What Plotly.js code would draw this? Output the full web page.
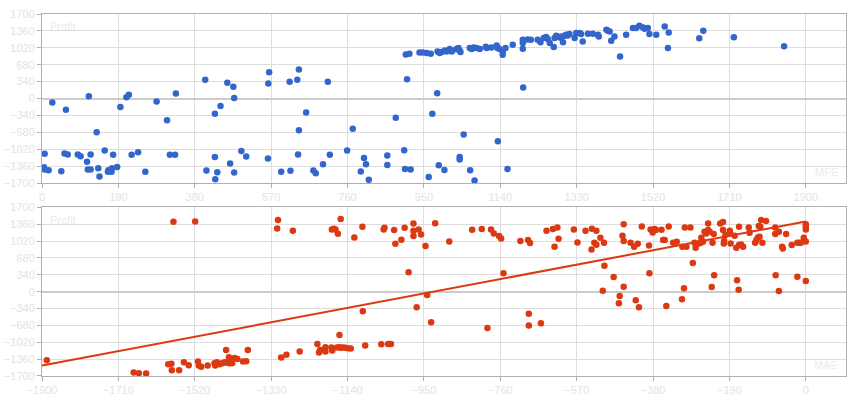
<!DOCTYPE html>
<html>
<head>
<meta charset="utf-8">
<script src="https://cdn.plot.ly/plotly-3.0.1.min.js"></script>
<style>html,body{margin:0;padding:0;background:#fff;}#chart{width:860px;height:400px;}</style>
</head>
<body>
<div id="chart"></div>
<script>
// Top chart: MFE (x) vs Profit (y)
const mfe = [6.6,5,6.6,16.5,25.6,59.5,56,64,48,89,96,112,116.5,114,121,121,136,140,143,156,164,165,173,177,174,187,195,210,216,223,239,257,285,311,318,331,333,406,409,430,430,431,436,444,461,468,476,478,478,496,508,562,565,563,595,616,618,635,637,639,639,
657,711,675,681,699,716,759,773,801,806,793,813,859,859,880,901,903,917,908,971,983,962,987,1001,1039,1039,1049,1065,1076,1134,1158,1197,
905,914,939,947,957,967,984,989,994,1002,1006,1014,1019,1021,1031,1036,1041,1039,1064,1069,1074,1081,1089,1104,1106,1118,1131,1133,1138,1146,1146,1153,1171,1196,1196,1196,1208,1216,1233,
1240,1248,1254,1258,1263,1273,1275,1279,1283,1288,1292,1296,1300,1304,1308,1312,1325,1329,1337,1341,1345,1358,1370,1383,1385,1404,1408,1412,1416,1424,1438,1453,1470,1478,1486,1495,1499,1507,1511,1528,1549,1557,
1559,1635,1645,1721,1846];
const profitTop = [-1113,-1381,-1428,-1442,-80,-228,-1106,-1127,-1462,-1127,-1160,-1274,47,-1428,-1428,-1127,-677,-1401,-1569,-1046,-1475,-1442,-1475,-1133,-1401,-1375,-168,27,74,-1133,-1080,-1475,-60,-436,-1133,-1133,101,376,-1448,-308,-1174,-1623,-1482,-148,315,-1308,235,13,-1489,-1053,-1167,-1207,530,302,-1475,335,-1455,376,-1127,583,-637,
-282,335,-1448,-1502,-1321,-1133,-1046,-610,-1194,-1321,-1469,-1636,-1147,-1335,-389,-1040,-1415,-1428,389,-308,107,-1576,-1341,-1435,-1174,-1227,-724,-1442,-1650,-858,-1415,221,
885,899,926,926,914,900,946,914,934,966,946,994,946,960,994,1014,934,960,1014,994,1027,1014,994,1041,1014,1027,1067,1014,994,946,880,1014,1081,1115,1182,1000,1188,1182,1182,
1134,1215,1235,1195,1115,1034,1215,1262,1242,1228,1248,1134,1262,1282,1269,1296,1215,1316,1316,1296,1148,1302,1302,1282,1248,1383,1363,1349,1162,1248,846,1282,1417,1417,1464,1430,1403,1417,1296,1282,1450,1014,
1328,1214,1361,1234,1053];

// Bottom chart: MAE (x) vs Profit (y)
const mae = [-1888,-1672,-1659,-1641,-1573,-1519,-1586,-1578,-1577,-1559,-1547,-1535,-1512,-1510,-1504,-1488,-1471,-1469,-1465,-1458,-1452,-1446,-1439,-1442,-1435,-1434,-1430,-1427,-1421,-1414,-1400,-1392,-1388,-1313,-1315,-1276,-1305,-1292,-1259,
-1215,-1211,-1208,-1195,-1195,-1180,-1178,-1166,-1161,-1156,-1151,-1145,-1139,-1132,-1157,-1160,-1179,-1174,-1170,-1164,-1123,-1103,-1102,-1096,-1056,-1039,-1032,-1050,-1048,-1024,-1021,-1006,-998,-988,-976,-976,-976,-968,-963,-957,-946,-942,-932,-922,-887,-830,-806,-792,-783,-776,-763,-758,-752,-710,-691,-689,-689,-686,-659,-645,-629,-625,-618,-615,-577,-568,
-548,-532,-533,-526,-521,-521,-511,-502,-501,-505,-478,-465,-463,-453,-456,-453,-453,-436,-427,-423,-418,-415,-408,-390,-389,-386,-381,-376,-373,-359,-355,-351,-347,-341,-330,-321,-308,-307,-303,-301,-297,-287,-281,-277,-274,-266,-262,-260,-256,-252,-248,-243,-243,-239,-232,-234,-229,-228,-213,-206,-206,-204,-203,-200,-189,-188,-187,-177,-173,-171,-167,-166,-166,-161,-156,-142,-140,-126,-123,-119,-117,-115,-113,-111,-108,-99,-76,-76,-75,-67,-67,-59,-57,-49,-35,-21,-21,-16,-12,-5,0,0,0,0,0];
const profitBottom = [-1381,-1630,-1643,-1650,1408,1415,-1462,-1455,-1583,-1583,-1422,-1482,-1408,-1489,-1516,-1489,-1442,-1489,-1422,-1462,-1442,-1422,-1435,-1174,-1321,-1442,-1361,-1442,-1335,-1355,-1408,-1402,-1174,1442,1274,1227,-1328,-1274,-1207,
-1053,-1227,-1174,-1120,-1207,-1127,-1187,-1127,-1120,-1133,-1127,-1133,-1140,-1147,1462,-872,1254,1267,1254,1167,1093,1308,-396,-1086,-1060,-1053,-1053,1254,1288,1241,966,1046,1288,389,1375,1227,1120,-315,1254,1153,919,-67,-617,1381,1013,1247,1261,-731,1254,1174,1120,1073,369,1019,1039,-443,-684,979,-637,1227,1261,905,1294,1066,1254,992,
1227,1267,852,986,1227,946,1086,986,523,20,295,-235,-87,101,1127,1361,1019,986,905,-174,966,-315,1314,932,369,1254,1194,1261,1241,1247,1039,1039,-288,1314,986,1006,-154,905,67,1294,905,1294,577,986,885,972,986,1086,1006,1207,1174,1375,1241,1207,986,94,1160,329,1375,1402,1241,972,1026,1140,1227,1174,972,1127,885,228,40,1308,939,952,905,1294,1187,986,1039,1093,1321,1107,1308,1442,986,1422,1294,1160,329,1207,13,905,872,1160,939,302,986,986,986,1086,1013,215,1254,1308,1361];

// Trend line (MAE endpoints and fitted Profit values)
const trendMae = [-1900, 0];
const trendProfit = [-1489, 1415];

const blue = '#3366cc', red = '#dc3912';
const tickFont = {family: 'Liberation Sans, Arial, sans-serif', size: 11, color: '#e3e3e3'};
const titleFont = {family: 'Liberation Sans, Arial, sans-serif', size: 11, color: '#ebebeb'};

function xax(range, anchor) {
  return {range: range, tick0: 0, dtick: 190, anchor: anchor, showgrid: true, gridcolor: '#dddddd', gridwidth: 1,
    zeroline: false, showline: true, linecolor: '#b0b0b0', linewidth: 1, mirror: true,
    ticks: 'outside', ticklen: 4, tickcolor: '#b0b0b0', tickfont: tickFont, fixedrange: true};
}
function yax(domain, anchor) {
  return {range: [-1700, 1700], tick0: 0, dtick: 340, domain: domain, anchor: anchor, showgrid: true, gridcolor: '#dddddd',
    gridwidth: 1, zeroline: true, zerolinecolor: '#cccccc', zerolinewidth: 2, showline: true, linecolor: '#b0b0b0',
    linewidth: 1, mirror: true, ticks: 'outside', ticklen: 4, tickcolor: '#b0b0b0', tickfont: tickFont, fixedrange: true};
}

const traces = [
  {x: mfe, y: profitTop, type: 'scatter', mode: 'markers', xaxis: 'x', yaxis: 'y',
   marker: {color: blue, size: 6.5}, hoverinfo: 'x+y'},
  {x: mae, y: profitBottom, type: 'scatter', mode: 'markers', xaxis: 'x2', yaxis: 'y2',
   marker: {color: red, size: 6.5}, hoverinfo: 'x+y'},
  {x: trendMae, y: trendProfit, type: 'scatter', mode: 'lines', xaxis: 'x2', yaxis: 'y2',
   line: {color: red, width: 2}, hoverinfo: 'skip'}
];

const layout = {
  width: 860, height: 400,
  margin: {l: 42, r: 14, t: 14, b: 24},
  paper_bgcolor: '#ffffff', plot_bgcolor: '#ffffff',
  showlegend: false,
  xaxis: xax([0, 2000], 'y'),
  yaxis: yax([0.533, 1], 'x'),
  xaxis2: xax([-1900, 100], 'y2'),
  yaxis2: yax([0, 0.466], 'x2'),
  annotations: [
    {text: 'Profit', xref: 'x domain', yref: 'y domain', x: 0.008, y: 0.975, xanchor: 'left', yanchor: 'top', showarrow: false, font: titleFont},
    {text: 'MFE', xref: 'x domain', yref: 'y domain', x: 0.992, y: 0.02, xanchor: 'right', yanchor: 'bottom', showarrow: false, font: titleFont},
    {text: 'Profit', xref: 'x2 domain', yref: 'y2 domain', x: 0.008, y: 0.975, xanchor: 'left', yanchor: 'top', showarrow: false, font: titleFont},
    {text: 'MAE', xref: 'x2 domain', yref: 'y2 domain', x: 0.992, y: 0.02, xanchor: 'right', yanchor: 'bottom', showarrow: false, font: titleFont}
  ]
};

Plotly.newPlot('chart', traces, layout, {displayModeBar: false, staticPlot: true});
</script>
</body>
</html>
